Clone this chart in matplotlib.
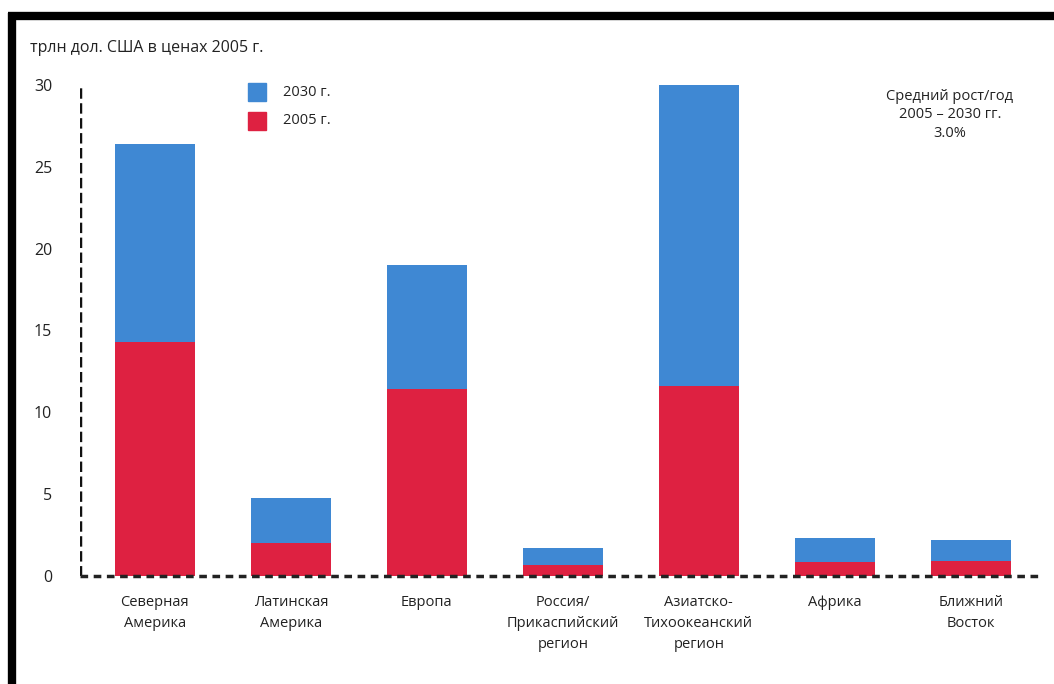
import matplotlib.pyplot as plt
from matplotlib.patches import Rectangle
from matplotlib.lines import Line2D

plt.rcParams["font.family"] = ["Open Sans", "DejaVu Sans"]

# data (trillion USD, 2005 prices)
regions = [
    "Северная\nАмерика",
    "Латинская\nАмерика",
    "Европа",
    "Россия/\nПрикаспийский\nрегион",
    "Азиатско-\nТихоокеанский\nрегион",
    "Африка",
    "Ближний\nВосток",
]
gdp_2030 = [26.4, 4.75, 19.0, 1.7, 30.0, 2.3, 2.2]
gdp_2005 = [14.3, 2.0, 11.4, 0.65, 11.6, 0.85, 0.9]
yticks = [0, 5, 10, 15, 20, 25, 30]

BLUE = "#3F88D3"
RED = "#DE2141"
TXT = "#222222"

fig = plt.figure(figsize=(10.54, 6.84), dpi=100)
ax = fig.add_axes([0.0759, 0.158, 0.911, 0.718])

x = list(range(len(regions)))
ax.bar(x, gdp_2030, width=0.59, color=BLUE, zorder=2)
ax.bar(x, gdp_2005, width=0.59, color=RED, zorder=3)

ax.set_xlim(-0.55, 6.51)
ax.set_ylim(0, 30)
ax.set_yticks(yticks)
ax.set_xticks(x)
ax.set_xticklabels(regions, fontsize=10.5, color=TXT, linespacing=1.55, va="top")
ax.tick_params(axis="both", length=0)
ax.tick_params(axis="y", pad=20, labelsize=11.5, labelcolor=TXT)
ax.tick_params(axis="x", pad=14)

for s in ["top", "right", "bottom", "left"]:
    ax.spines[s].set_visible(False)
ax.axvline(-0.55, color="#111111", lw=2.5, ls=(0, (3, 1.3)), zorder=4)
ax.axhline(0, color="#222222", lw=2.5, ls=(0, (2.2, 1.6)), zorder=4, clip_on=False)

# legend squares
for yy, col, lab in [(1 - 92 / 684, BLUE, "2030 г."), (1 - 121 / 684, RED, "2005 г.")]:
    fig.patches.append(Rectangle((248 / 1054, yy - 0.0125), 18 / 1054, 0.025,
                                 color=col, transform=fig.transFigure, figure=fig))
    fig.text(283 / 1054, yy, lab, fontsize=10.5, color=TXT, va="center")

fig.text(950 / 1054, 1 - 115 / 684, "Средний рост/год\n2005 – 2030 гг.\n3.0%",
         fontsize=10.5, color=TXT, ha="center", va="center", linespacing=1.3)

fig.text(30 / 1054, 1 - 48 / 684, "трлн дол. США в ценах 2005 г.",
         fontsize=11.5, color=TXT, va="center")

# black frame (top and left)
fig.add_artist(Line2D([8 / 1054, 1], [1 - 16 / 684, 1 - 16 / 684], color="black",
                      lw=6, transform=fig.transFigure, solid_capstyle="butt"))
fig.add_artist(Line2D([12 / 1054, 12 / 1054], [0, 1 - 13 / 684], color="black",
                      lw=6, transform=fig.transFigure, solid_capstyle="butt"))

fig.savefig("out.png", dpi=100)
